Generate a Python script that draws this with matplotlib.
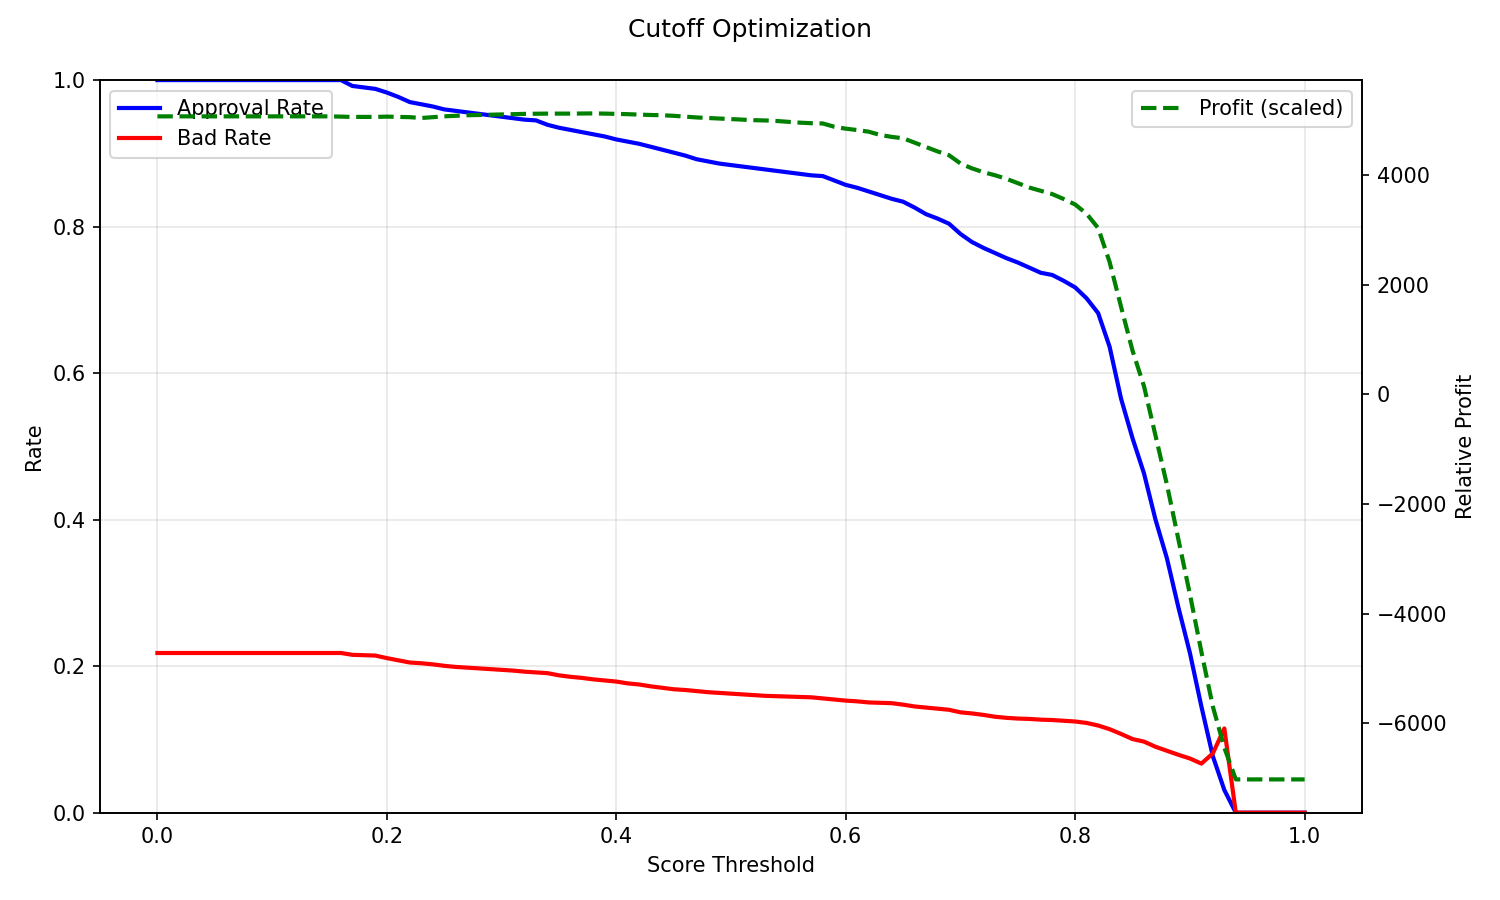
import numpy as np
import matplotlib
matplotlib.use("Agg")
import matplotlib.pyplot as plt

# score thresholds 0.00 .. 1.00 step 0.01
thresholds = np.round(np.arange(0, 101) * 0.01, 2)

approval_rate = [
    1.000, 1.000, 1.000, 1.000, 1.000, 1.000, 1.000, 1.000, 1.000, 1.000,
    1.000, 1.000, 1.000, 1.000, 1.000, 1.000, 1.000, 0.992, 0.990, 0.988,
    0.983, 0.977, 0.970, 0.967, 0.964, 0.960, 0.958, 0.956, 0.954, 0.952,
    0.950, 0.948, 0.946, 0.945, 0.939, 0.935, 0.932, 0.929, 0.926, 0.923,
    0.919, 0.916, 0.913, 0.909, 0.905, 0.901, 0.897, 0.892, 0.889, 0.886,
    0.884, 0.882, 0.880, 0.878, 0.876, 0.874, 0.872, 0.870, 0.869, 0.863,
    0.857, 0.853, 0.848, 0.843, 0.838, 0.834, 0.826, 0.817, 0.811, 0.804,
    0.790, 0.779, 0.771, 0.764, 0.757, 0.751, 0.744, 0.737, 0.734, 0.726,
    0.717, 0.702, 0.682, 0.636, 0.565, 0.511, 0.463, 0.400, 0.347, 0.280,
    0.218, 0.145, 0.077, 0.031, 0.000, 0.000, 0.000, 0.000, 0.000, 0.000,
    0.000,
]

bad_rate = [
    0.218, 0.218, 0.218, 0.218, 0.218, 0.218, 0.218, 0.218, 0.218, 0.218,
    0.218, 0.218, 0.218, 0.218, 0.218, 0.218, 0.218, 0.2155, 0.215, 0.2145,
    0.211, 0.208, 0.205, 0.204, 0.2025, 0.2005, 0.199, 0.198, 0.197, 0.196,
    0.195, 0.194, 0.1925, 0.1915, 0.1905, 0.1875, 0.1855, 0.184, 0.182, 0.1805,
    0.179, 0.1765, 0.175, 0.1725, 0.1705, 0.1685, 0.1675, 0.166, 0.1645, 0.1635,
    0.1625, 0.1615, 0.1605, 0.1595, 0.159, 0.1585, 0.158, 0.1575, 0.156, 0.1545,
    0.153, 0.152, 0.1505, 0.150, 0.1495, 0.1475, 0.145, 0.1435, 0.142, 0.1405,
    0.137, 0.1355, 0.1335, 0.131, 0.1295, 0.1285, 0.128, 0.127, 0.1265, 0.1255,
    0.1245, 0.1225, 0.119, 0.114, 0.1075, 0.1005, 0.097, 0.090, 0.0845, 0.079,
    0.074, 0.067, 0.081, 0.115, 0.000, 0.000, 0.000, 0.000, 0.000, 0.000,
    0.000,
]

profit = [
    5080, 5080, 5080, 5080, 5080, 5080, 5080, 5080, 5080, 5080,
    5080, 5080, 5080, 5080, 5080, 5080, 5075, 5070, 5070, 5070,
    5075, 5070, 5065, 5050, 5065, 5080, 5090, 5100, 5105, 5110,
    5115, 5120, 5125, 5128, 5130, 5130, 5130, 5132, 5134, 5130,
    5125, 5120, 5112, 5105, 5100, 5090, 5075, 5060, 5050, 5040,
    5030, 5020, 5010, 5005, 4995, 4980, 4965, 4955, 4950, 4890,
    4855, 4830, 4800, 4740, 4705, 4680, 4600, 4520, 4440, 4370,
    4220, 4130, 4060, 4005, 3940, 3860, 3780, 3720, 3660, 3570,
    3470, 3300, 3040, 2420, 1600, 800, 150, -750, -1650, -2650,
    -3650, -4700, -5700, -6450, -7030, -7030, -7030, -7030, -7030, -7030,
    -7030,
]

fig, ax1 = plt.subplots(figsize=(10, 6), dpi=150)
ax1.plot(thresholds, approval_rate, 'b-', linewidth=2, label='Approval Rate')
ax1.plot(thresholds, bad_rate, 'r-', linewidth=2, label='Bad Rate')
ax1.set_xlabel('Score Threshold')
ax1.set_ylabel('Rate')
ax1.set_ylim(0, 1)
ax1.grid(True, alpha=0.3)
ax1.legend(loc='upper left')

ax2 = ax1.twinx()
ax2.plot(thresholds, profit, 'g--', linewidth=2, label='Profit (scaled)')
ax2.set_ylabel('Relative Profit')
ax2.legend(loc='upper right')

fig.suptitle('Cutoff Optimization')
plt.tight_layout()
fig.subplots_adjust(left=0.0667, right=0.908, top=0.911, bottom=0.097)
plt.savefig('out.png')
